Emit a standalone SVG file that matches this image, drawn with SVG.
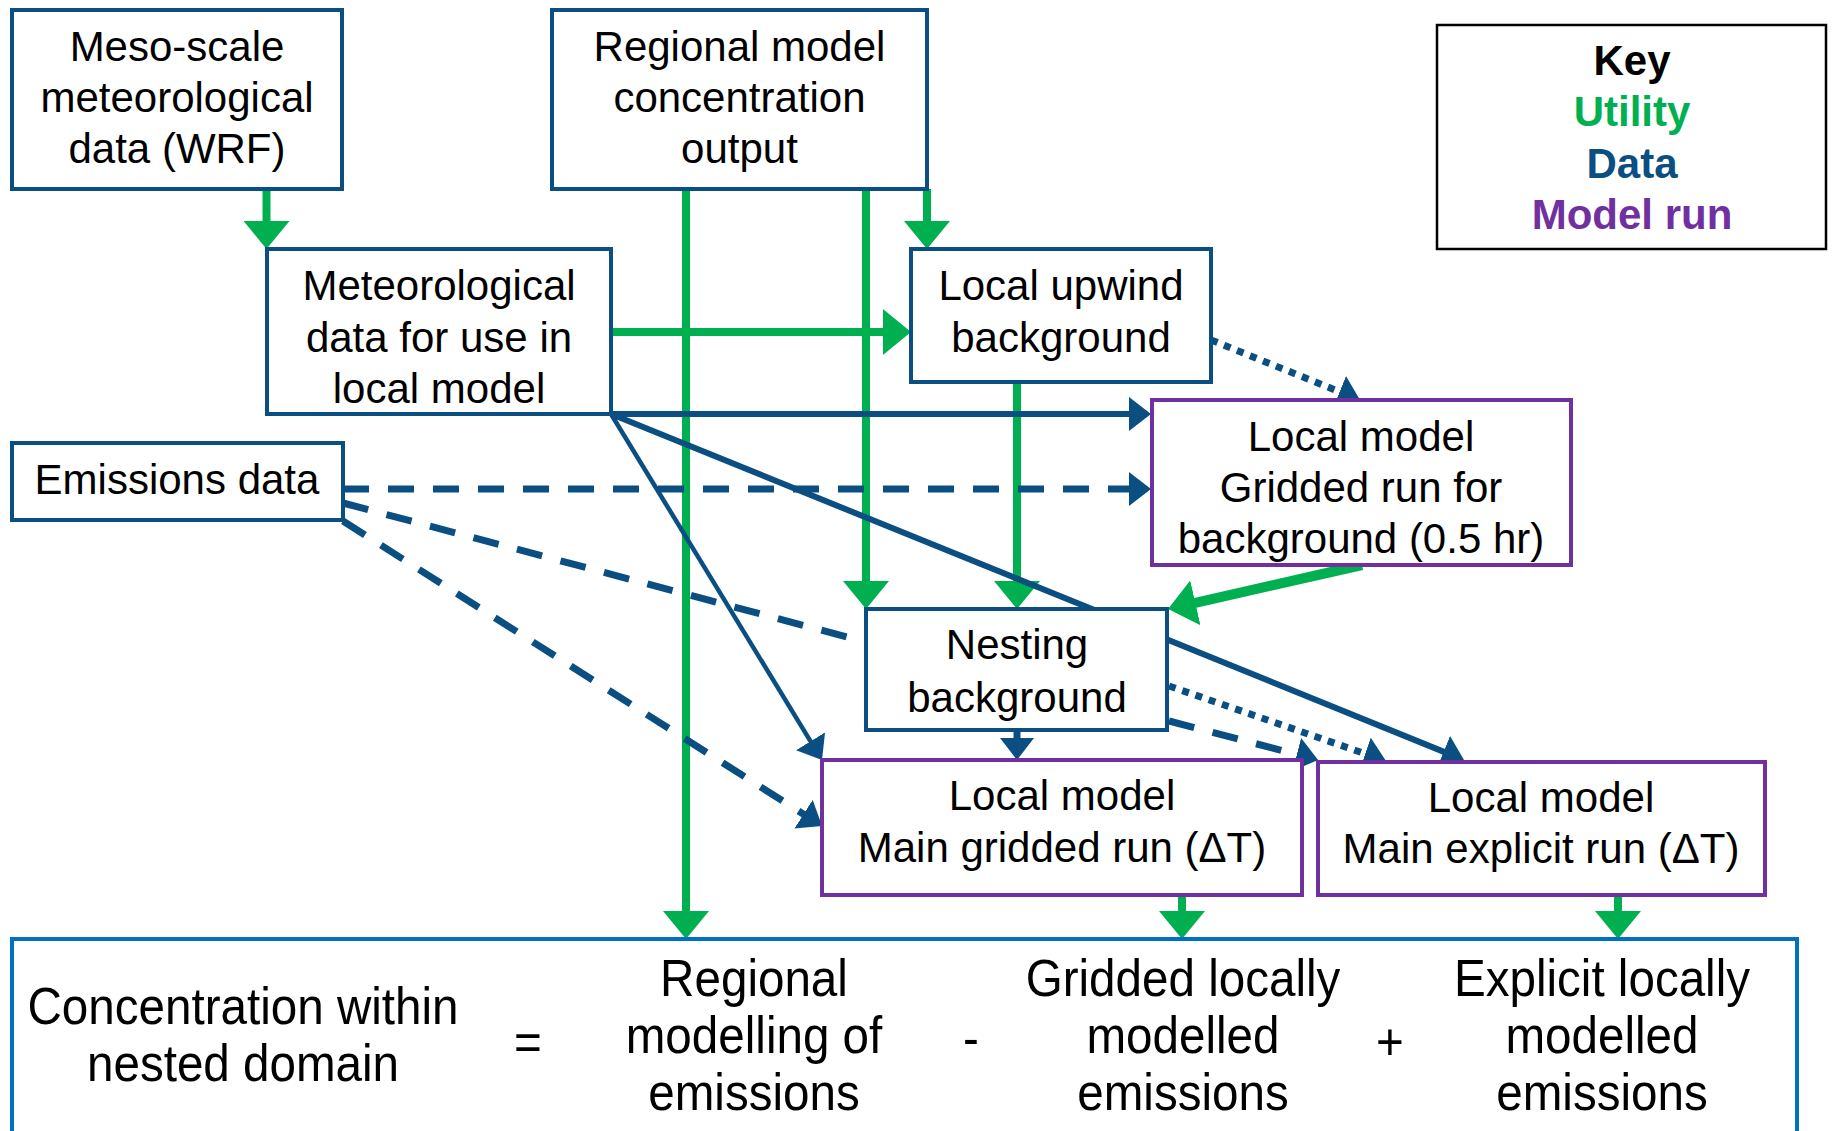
<svg xmlns="http://www.w3.org/2000/svg" width="1833" height="1131" viewBox="0 0 1833 1131">
<style>
.nb{fill:#fff;stroke:#0A4E82;stroke-width:4}
.np{fill:#fff;stroke:#7030A0;stroke-width:4}
.t{font-family:"Liberation Sans",Arial,sans-serif;font-size:42px;fill:#000;text-anchor:middle}
.k{font-family:"Liberation Sans",Arial,sans-serif;font-size:42px;font-weight:bold;text-anchor:middle}
.b{font-family:"Liberation Sans",Arial,sans-serif;font-size:52px;fill:#000;text-anchor:middle}
.g{stroke:#00B050;stroke-width:8;fill:none;marker-end:url(#ag)}
.d{stroke:#0A4E82;stroke-width:6;fill:none}
.ah{marker-end:url(#ab)}
.dash{stroke-dasharray:26 19;stroke-width:7}
.dot{stroke-dasharray:7 7;stroke-width:7}
</style>
<defs>
<marker id="ag" markerUnits="userSpaceOnUse" markerWidth="28" markerHeight="46" viewBox="0 0 28 46" refX="18" refY="23" orient="auto"><path d="M0,0 L28,23 L0,46 Z" fill="#00B050"/></marker>
<marker id="ab" markerUnits="userSpaceOnUse" markerWidth="22" markerHeight="34" viewBox="0 0 22 34" refX="13" refY="17" orient="auto"><path d="M0,0 L22,17 L0,34 Z" fill="#0A4E82"/></marker>
</defs>
<rect width="1833" height="1131" fill="#fff"/>
<g id="connectors">
<line class="g" x1="266.5" y1="189" x2="266.5" y2="239"/>
<line class="g" x1="686" y1="189" x2="686" y2="929"/>
<line class="g" x1="866" y1="189" x2="866" y2="599"/>
<line class="g" x1="927" y1="189" x2="927" y2="239"/>
<line class="g" x1="611" y1="332" x2="901" y2="332"/>
<line class="g" x1="1017" y1="382" x2="1017" y2="599"/>
<line class="g" x1="1362" y1="565" x2="1177.8" y2="606.8" style="stroke-width:10"/>
<line class="g" x1="1182" y1="895" x2="1182" y2="929"/>
<line class="g" x1="1618" y1="895" x2="1618" y2="929"/>
<line class="d ah" x1="611" y1="414" x2="1142" y2="414"/>
<line class="d ah" x1="611" y1="414" x2="817.3" y2="752.4" style="stroke-width:4.5"/>
<line class="d ah" x1="611" y1="414" x2="1455.7" y2="756.6"/>
<line class="d dash ah" x1="343" y1="489" x2="1142" y2="489"/>
<line class="d dash" x1="343" y1="503" x2="866" y2="642"/>
<line class="d dash ah" x1="343" y1="521" x2="814.5" y2="821.2"/>
<line class="d dash ah" x1="1017" y1="730" x2="1017" y2="751"/>
<line class="d dash ah" x1="1169" y1="721" x2="1309.4" y2="757.7"/>
<line class="d dot ah" x1="1169" y1="686" x2="1377.5" y2="758"/>
<line class="d dot ah" x1="1211" y1="340" x2="1351.7" y2="396.6"/>
</g>
<g id="meso">
<rect class="nb" x="12" y="10" width="330" height="179"/>
<text class="t"><tspan x="177" y="61">Meso-scale</tspan><tspan x="177" y="112">meteorological</tspan><tspan x="177" y="163">data (WRF)</tspan></text>
</g>
<g id="regional">
<rect class="nb" x="552" y="10" width="375" height="179"/>
<text class="t"><tspan x="739.5" y="61">Regional model</tspan><tspan x="739.5" y="112">concentration</tspan><tspan x="739.5" y="163">output</tspan></text>
</g>
<g id="key">
<rect x="1437" y="25" width="389" height="224" fill="#fff" stroke="#000" stroke-width="2.5"/>
<text class="k"><tspan x="1632" y="75" fill="#000">Key</tspan><tspan x="1632" y="126" fill="#00B050">Utility</tspan><tspan x="1632" y="178" fill="#0A4E82">Data</tspan><tspan x="1632" y="229" fill="#7030A0">Model run</tspan></text>
</g>
<g id="met">
<rect class="nb" x="267" y="249" width="344" height="165"/>
<text class="t"><tspan x="439" y="300">Meteorological</tspan><tspan x="439" y="352">data for use in</tspan><tspan x="439" y="403">local model</tspan></text>
</g>
<g id="upwind">
<rect class="nb" x="911" y="249" width="300" height="133"/>
<text class="t"><tspan x="1061" y="300">Local upwind</tspan><tspan x="1061" y="352">background</tspan></text>
</g>
<g id="emissions">
<rect class="nb" x="12" y="443" width="331" height="77"/>
<text class="t" x="177" y="494">Emissions data</text>
</g>
<g id="lmbg">
<rect class="np" x="1152" y="400" width="419" height="165"/>
<text class="t"><tspan x="1361" y="451">Local model</tspan><tspan x="1361" y="502">Gridded run for</tspan><tspan x="1361" y="553">background (0.5 hr)</tspan></text>
</g>
<g id="nesting">
<rect class="nb" x="866" y="609" width="301" height="121"/>
<text class="t"><tspan x="1017" y="659">Nesting</tspan><tspan x="1017" y="712">background</tspan></text>
</g>
<g id="gridded">
<rect class="np" x="822" y="760" width="480" height="135"/>
<text class="t"><tspan x="1062" y="810">Local model</tspan><tspan x="1062" y="862">Main gridded run (ΔT)</tspan></text>
</g>
<g id="explicit">
<rect class="np" x="1318" y="762" width="447" height="133"/>
<text class="t"><tspan x="1541" y="812">Local model</tspan><tspan x="1541" y="863">Main explicit run (ΔT)</tspan></text>
</g>
<g id="result">
<rect x="12" y="939" width="1785" height="220" fill="#fff" stroke="#0070C0" stroke-width="4"/>
<text class="b" transform="translate(243,0) scale(0.915,1)"><tspan x="0" y="1024">Concentration within</tspan><tspan x="0" y="1081">nested domain</tspan></text>
<text class="b" transform="translate(528,0) scale(0.915,1)" x="0" y="1060">=</text>
<text class="b" transform="translate(754,0) scale(0.915,1)"><tspan x="0" y="996">Regional</tspan><tspan x="0" y="1053">modelling of</tspan><tspan x="0" y="1110">emissions</tspan></text>
<text class="b" transform="translate(971,0) scale(0.915,1)" x="0" y="1056">-</text>
<text class="b" transform="translate(1183,0) scale(0.915,1)"><tspan x="0" y="996">Gridded locally</tspan><tspan x="0" y="1053">modelled</tspan><tspan x="0" y="1110">emissions</tspan></text>
<text class="b" transform="translate(1390,0) scale(0.915,1)" x="0" y="1060">+</text>
<text class="b" transform="translate(1602,0) scale(0.915,1)"><tspan x="0" y="996">Explicit locally</tspan><tspan x="0" y="1053">modelled</tspan><tspan x="0" y="1110">emissions</tspan></text>
</g>
</svg>
